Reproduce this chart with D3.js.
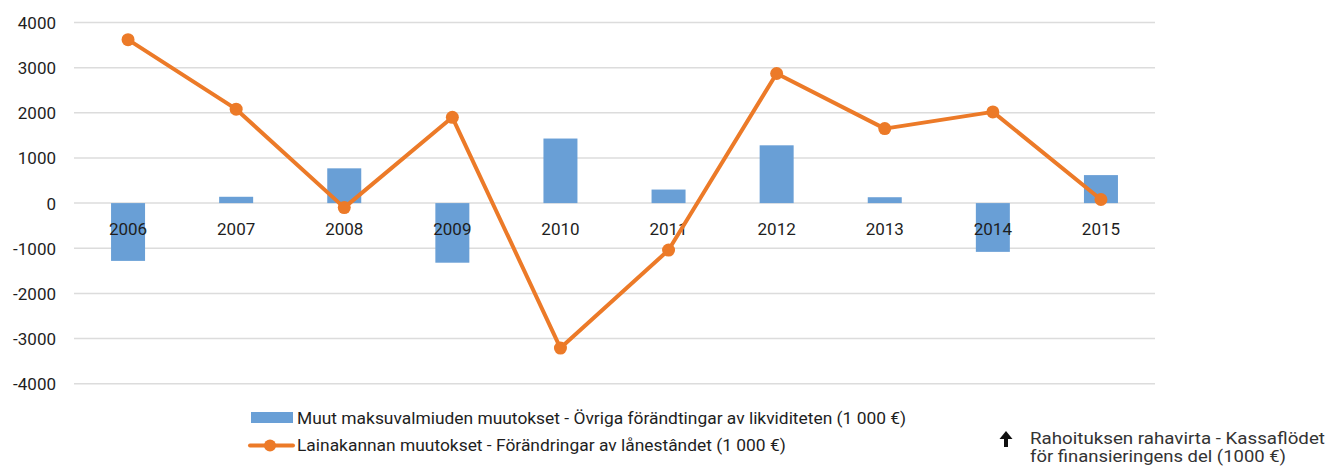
<!DOCTYPE html>
<html><head><meta charset="utf-8">
<script src="https://cdn.jsdelivr.net/npm/d3@7"></script>
<style>
html,body{margin:0;padding:0;background:#fff;}
svg{display:block;font-family:Roboto, "Noto Sans", sans-serif;}
</style></head>
<body>
<svg id="chart" width="1330" height="468"></svg>
<script>
const years = ["2006","2007","2008","2009","2010","2011","2012","2013","2014","2015"];
const barValues = [-1280, 140, 770, -1320, 1430, 300, 1280, 130, -1080, 620];
const lineValues = [3620, 2080, -100, 1900, -3210, -1040, 2870, 1650, 2020, 80];
const yTicks = [-4000, -3000, -2000, -1000, 0, 1000, 2000, 3000, 4000];
const barName = "Muut maksuvalmiuden muutokset - Övriga förändtingar av likviditeten (1 000 €)";
const lineName = "Lainakannan muutokset - Förändringar av lånestândet (1 000 €)";
const noteLines = ["Rahoituksen rahavirta - Kassaflödet", "för finansieringens del (1000 €)"];

const svg = d3.select("#chart");
const pLeft = 74, pRight = 1155, pTop = 22.5, pBottom = 383.7;
const x = d3.scaleBand().domain(years).range([pLeft, pRight]).paddingInner(0).paddingOuter(0);
const y = d3.scaleLinear().domain([-4000, 4000]).range([pBottom, pTop]);
const ink = "#1e1e1e";

// gridlines
svg.append("g").selectAll("line").data(yTicks).join("line")
  .attr("x1", pLeft).attr("x2", pRight)
  .attr("y1", d => y(d)).attr("y2", d => y(d))
  .attr("stroke", "#dcdcdc").attr("stroke-width", 1.5);

// y labels
const yAxis = d3.axisLeft(y).tickValues(yTicks).tickSize(0).tickPadding(0).tickFormat(d => String(d));
const ya = svg.append("g").attr("transform", "translate(56,0)").call(yAxis);
ya.select(".domain").remove();
ya.selectAll("text").attr("font-size", 17).attr("fill", ink).attr("font-family", "Roboto").attr("dy", "0.35em");

// bars
const bw = 34;
svg.append("g").selectAll("rect").data(barValues).join("rect")
  .attr("x", (d, i) => x(years[i]) + x.bandwidth() / 2 - bw / 2)
  .attr("width", bw)
  .attr("y", d => Math.min(y(d), y(0)))
  .attr("height", d => Math.abs(y(d) - y(0)))
  .attr("fill", "#699fd6");

// x labels at zero line
const xAxis = d3.axisBottom(x).tickSize(0).tickPadding(0);
const xa = svg.append("g").attr("transform", "translate(0,229)").call(xAxis);
xa.select(".domain").remove();
xa.selectAll("text").attr("font-size", 17).attr("fill", ink).attr("font-family", "Roboto").attr("dy", "0.35em").attr("y", 0);

// line
const line = d3.line().x((d, i) => x(years[i]) + x.bandwidth() / 2).y(d => y(d));
svg.append("path").datum(lineValues).attr("d", line)
  .attr("fill", "none").attr("stroke", "#ec7a28").attr("stroke-width", 4).attr("stroke-linejoin", "round");
svg.append("g").selectAll("circle").data(lineValues).join("circle")
  .attr("cx", (d, i) => x(years[i]) + x.bandwidth() / 2)
  .attr("cy", d => y(d)).attr("r", 6.5).attr("fill", "#ec7a28");

// legend
const lg = svg.append("g");
lg.append("rect").attr("x", 251).attr("y", 412).attr("width", 42).attr("height", 11).attr("fill", "#699fd6");
lg.append("text").attr("x", 297).attr("y", 418).attr("dy", "0.35em").attr("font-size", 17.4).attr("fill", ink).text(barName);
lg.append("line").attr("x1", 250).attr("x2", 293).attr("y1", 445.5).attr("y2", 445.5).attr("stroke", "#ec7a28").attr("stroke-width", 4).attr("stroke-linecap", "round");
lg.append("circle").attr("cx", 270).attr("cy", 445.5).attr("r", 6).attr("fill", "#ec7a28");
lg.append("text").attr("x", 297).attr("y", 445).attr("dy", "0.35em").attr("font-size", 17.4).attr("fill", ink).text(lineName);

// note with arrow
const note = svg.append("g");
note.append("path")
  .attr("d", "M1006,431 L1012.5,439 L1008,439 L1008,447 L1004,447 L1004,439 L999.5,439 Z")
  .attr("fill", "#111");
note.selectAll("text.n").data(noteLines).join("text").attr("class", "n")
  .attr("x", 1030).attr("y", (d, i) => 438.5 + i * 17.5).attr("dy", "0.35em")
  .attr("font-size", 17).attr("fill", "#333")
  .attr("textLength", (d, i) => i === 0 ? 295 : 256).attr("lengthAdjust", "spacingAndGlyphs")
  .text(d => d);
</script>
</body></html>
